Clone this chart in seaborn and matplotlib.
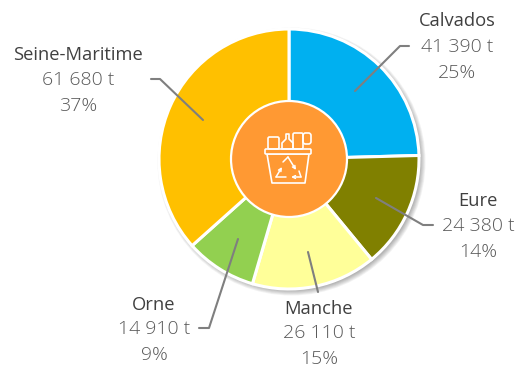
import matplotlib
matplotlib.use("Agg")
import matplotlib.pyplot as plt
from matplotlib.patches import Circle, Polygon, FancyBboxPatch, FancyArrowPatch
import seaborn as sns

departments = ["Calvados", "Eure", "Manche", "Orne", "Seine-Maritime"]
tonnes = [41390, 24380, 26110, 14910, 61680]
tonne_labels = ["41 390 t", "24 380 t", "26 110 t", "14 910 t", "61 680 t"]
percent_labels = ["25%", "14%", "15%", "9%", "37%"]
slice_colours = ["#00B0F0", "#808000", "#FFFF99", "#92D050", "#FFC000"]

W, H = 524, 369
CX, CY, R, R_IN = 289, 210, 130, 58
ORANGE = "#FF9933"

# label layout in pixels (top-left origin): text centre x, first-line y
label_pos = [(457, 21.5), (478, 201), (319, 308.5), (154, 304.5), (78, 55)]
leaders = [
    [(355, 91), (400, 46), (409, 46)],
    [(376, 198), (423, 225), (433, 225)],
    [(308, 252), (318, 292)],
    [(238, 239), (209, 328), (199, 328)],
    [(203, 120), (160, 79), (151, 79)],
]

sns.set_theme(style="white")
plt.rcParams["font.family"] = ["Open Sans", "DejaVu Sans"]

fig = plt.figure(figsize=(W / 100, H / 100), dpi=100, facecolor="white")
ax = fig.add_axes([0, 0, 1, 1])

# soft drop shadow, falling to the lower right
for i in range(7):
    ax.add_patch(Circle((CX + 2.5, CY - 2.5), R + 4 - i * 0.9, fc="#000000", alpha=0.05, lw=0, zorder=0))

wedges, _ = ax.pie(
    tonnes,
    colors=sns.color_palette(slice_colours),
    startangle=90,
    counterclock=False,
    center=(CX, CY),
    radius=R,
    frame=True,
    wedgeprops=dict(edgecolor="white", linewidth=2.2),
)
ax.set_xlim(0, W)
ax.set_ylim(0, H)
ax.axis("off")
ax.set_aspect("equal")

ax.add_patch(Circle((CX, CY), R_IN, fc=ORANGE, ec="white", lw=1.6, zorder=5))

def px(x, y):
    return (x, H - y)

for pts in leaders:
    xy = [px(*p) for p in pts]
    ax.plot(*zip(*xy), color="#7F7F7F", lw=1.5, zorder=6, solid_capstyle="round", solid_joinstyle="round")

for name, t, p, (x, y) in zip(departments, tonne_labels, percent_labels, label_pos):
    ax.text(x, H - y, name, ha="center", va="center", fontsize=13.2, color="#404040", zorder=7)
    ax.text(x, H - y - 25, t, ha="center", va="center", fontsize=14, color="#595959", fontweight="light", zorder=7)
    ax.text(x, H - y - 51, p, ha="center", va="center", fontsize=14, color="#595959", fontweight="light", zorder=7)

# central bin-and-recycling icon
ic = dict(fc="none", ec="white", lw=1.2, zorder=8, joinstyle="round")
ax.add_patch(Polygon([px(267, 154), px(272, 183), px(305, 183), px(309, 154)], closed=True, **ic))
ax.add_patch(FancyBboxPatch(px(265, 154), 46, 5, boxstyle="round,pad=0,rounding_size=1", fc=ORANGE, ec="white", lw=1.2, zorder=8))
ax.add_patch(FancyBboxPatch(px(268, 149), 11, 12, boxstyle="round,pad=0,rounding_size=1.5", **ic))
ax.add_patch(Polygon([px(282, 149), px(282, 143), px(286, 139), px(286, 134), px(289, 134), px(289, 139), px(293, 143), px(293, 149)], closed=True, **ic))
ax.add_patch(FancyBboxPatch(px(293, 149), 10, 16, boxstyle="round,pad=0,rounding_size=1.5", **ic))
ax.add_patch(FancyBboxPatch(px(303, 144), 8, 11, boxstyle="round,pad=0,rounding_size=2.5", **ic))
for pts in ([(283, 162), (288, 157), (296, 170)], [(286, 177), (276, 177), (282, 167)], [(299, 171), (301, 177), (291, 177)]):
    xy = [px(*p) for p in pts]
    ax.plot(*zip(*xy[:-1]), color="white", lw=1.1, zorder=8)
    ax.add_patch(FancyArrowPatch(xy[-2], xy[-1], arrowstyle="->", mutation_scale=5, color="white", lw=1.1, shrinkA=0, shrinkB=0, zorder=8))

fig.savefig("out.png", dpi=100, facecolor="white")
